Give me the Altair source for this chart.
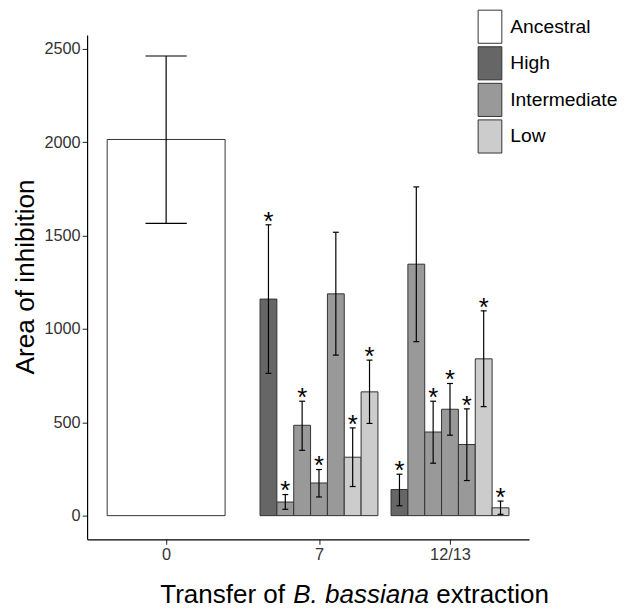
import altair as alt
import pandas as pd

# ---------------- data ----------------
transfer_positions = [0, 7, 13]
transfer_labels = ["0", "7", "12/13"]

bar_transfer = [0, 7, 7, 7, 7, 7, 7, 7, 13, 13, 13, 13, 13, 13, 13]
bar_line = ["Ancestral",
            "High", "Intermediate", "Intermediate", "Intermediate", "Intermediate", "Low", "Low",
            "High", "Intermediate", "Intermediate", "Intermediate", "Intermediate", "Low", "Low"]
bar_mean = [2015, 1160, 73, 484, 175, 1188, 313, 663, 140, 1347, 448, 570, 381, 840, 42]
bar_lower = [1566, 762, 34, 350, 100, 860, 156, 494, 53, 932, 281, 431, 188, 584, 7]
bar_upper = [2462, 1558, 113, 613, 247, 1518, 470, 833, 222, 1761, 613, 708, 572, 1097, 78]
bar_signif = [False, True, True, True, True, False, True, True,
              True, False, True, True, True, True, True]

line_types = ["Ancestral", "High", "Intermediate", "Low"]
line_colors = ["#ffffff", "#666666", "#999999", "#cccccc"]

y_ticks = [0, 500, 1000, 1500, 2000, 2500]

# ---------------- dodge layout (like position_dodge, width 0.9 * resolution) ----------------
DODGE = 5.4
CAP = 0.35
rows = []
for t in transfer_positions:
    idx = [i for i, v in enumerate(bar_transfer) if v == t]
    n = len(idx)
    w = DODGE / n
    for k, i in enumerate(idx):
        x0 = t - DODGE / 2 + k * w
        xc = x0 + w / 2
        rows.append(dict(
            transfer=t, line=bar_line[i], mean=bar_mean[i],
            lower=bar_lower[i], upper=bar_upper[i],
            star="*" if bar_signif[i] else "",
            x0=x0, x1=x0 + w, xc=xc,
            c0=xc - CAP * w / 2, c1=xc + CAP * w / 2, zero=0,
        ))
df = pd.DataFrame(rows)

label_expr = "datum.label"
for p, l in zip(transfer_positions, transfer_labels):
    label_expr = f"datum.value == {p} ? '{l}' : (" + label_expr + ")"

xscale = alt.Scale(domain=[-3.62, 16.62], nice=False, zero=False)
yscale = alt.Scale(domain=[-127, 2574], nice=False, zero=False)

# legend key: a tall rectangle (about 24 x 34 px)
symbol_path = "M-0.716,-1H0.716V1H-0.716Z"

base = alt.Chart(df)

bars = base.mark_rect(stroke="#333333", strokeWidth=1).encode(
    x=alt.X("x0:Q", scale=xscale,
            axis=alt.Axis(values=transfer_positions, labelExpr=label_expr, title=None)),
    x2="x1:Q",
    y=alt.Y("mean:Q", scale=yscale,
            axis=alt.Axis(values=y_ticks, format="d", title="Area of inhibition",
                          titleY=244)),
    y2="zero:Q",
    fill=alt.Fill("line:N",
                  scale=alt.Scale(domain=line_types, range=line_colors),
                  legend=alt.Legend(
                      title=None, orient="none", legendX=390, legendY=-26,
                      symbolType=symbol_path, symbolSize=1122,
                      symbolStrokeColor="#333333", symbolStrokeWidth=1,
                      labelFontSize=19.5, labelFont="Liberation Sans", labelColor="black",
                      labelOffset=3, rowPadding=-9, padding=0)),
)

err_v = base.mark_rule(color="black", strokeWidth=1.2).encode(
    x="xc:Q", y="lower:Q", y2="upper:Q")
cap_hi = base.mark_rule(color="black", strokeWidth=1.2).encode(
    x="c0:Q", x2="c1:Q", y="upper:Q")
cap_lo = base.mark_rule(color="black", strokeWidth=1.2).encode(
    x="c0:Q", x2="c1:Q", y="lower:Q")

stars = base.mark_text(fontSize=26, color="black", baseline="alphabetic",
                       align="center", dy=5, font="Liberation Sans").encode(
    x="xc:Q", y="upper:Q", text="star:N")

one = pd.DataFrame({"a": [0]})
FS = 26.3
X0 = 74
t1 = alt.Chart(one).mark_text(text="Transfer of", fontSize=FS, align="left",
                              baseline="alphabetic", color="black",
                              font="Liberation Sans").encode(
    x=alt.value(X0), y=alt.value(574))
t2 = alt.Chart(one).mark_text(text="B. bassiana", fontSize=FS, align="left",
                              fontStyle="italic", baseline="alphabetic", color="black",
                              font="Liberation Sans").encode(
    x=alt.value(X0 + 5.113 * FS), y=alt.value(574))
t3 = alt.Chart(one).mark_text(text="extraction", fontSize=FS, align="left",
                              baseline="alphabetic", color="black",
                              font="Liberation Sans").encode(
    x=alt.value(X0 + 10.616 * FS), y=alt.value(574))

chart = alt.layer(bars, err_v, cap_hi, cap_lo, stars, t1, t2, t3).properties(
    width=447, height=510,
    padding={"left": 80, "top": 24, "right": 92, "bottom": 66},
    autosize=alt.AutoSizeParams(type="none"),
).configure(
    font="Liberation Sans",
).configure_view(
    stroke=None,
).configure_axis(
    grid=False, domainColor="black", domainWidth=1.2,
    tickColor="#333333", tickWidth=1.1, tickSize=5,
    labelPadding=2, labelFontSize=16.5, labelColor="#333333",
    labelFont="Liberation Sans",
    titleFont="Liberation Sans", titleFontSize=26.5, titleFontWeight="normal",
    titleColor="black", titlePadding=4,
)

chart.save("out.html", embed_options={"renderer": "svg", "actions": False})
